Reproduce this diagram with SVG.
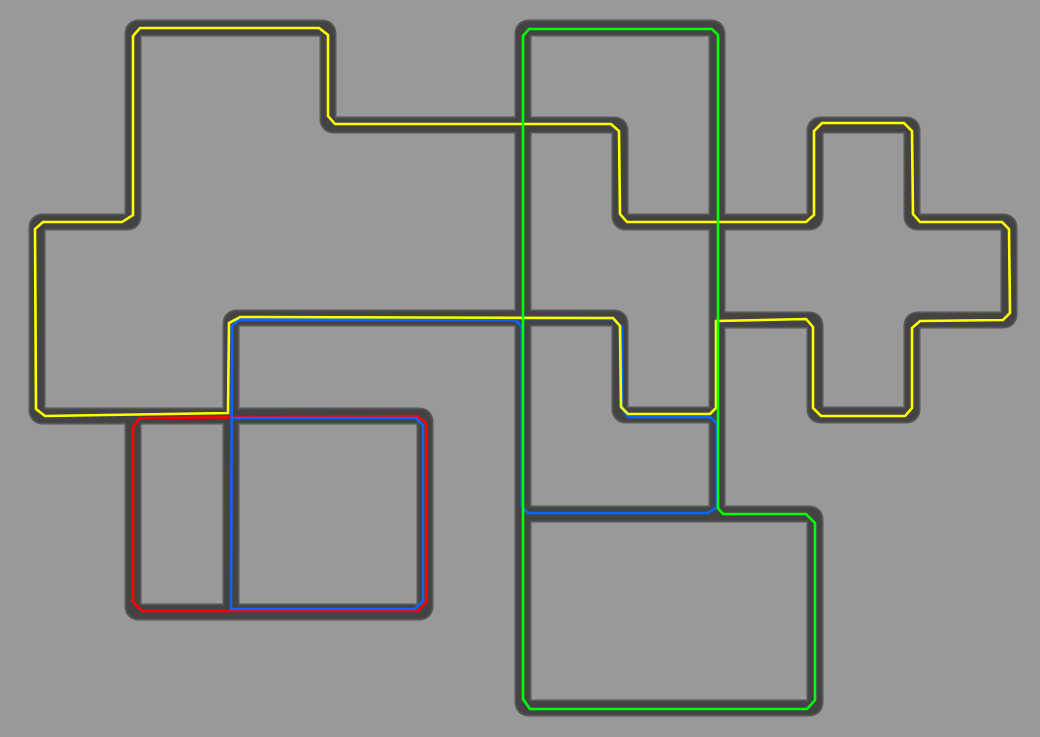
<svg xmlns="http://www.w3.org/2000/svg" width="1040" height="737" viewBox="0 0 1040 737">
<style>
.edge{fill:none;stroke:#575757;stroke-width:17;stroke-linejoin:round;stroke-linecap:butt}
.core{fill:none;stroke:#434343;stroke-width:13.5;stroke-linejoin:round;stroke-linecap:butt}
.ln{fill:none;stroke-width:2.6;stroke-linejoin:miter}
</style>
<defs>
<path id="rA" d="M 231,416 H 43 Q 37,416 37,410 V 228 Q 37,222 43,222 H 127 Q 133,222 133,216 V 34 Q 133,28 139,28 H 322 Q 328,28 328,34 V 119 Q 328,125 334,125 H 614 Q 620,125 620,131 V 216 Q 620,222 626,222 H 809 Q 815,222 815,216 V 131 Q 815,125 821,125 H 906 Q 912,125 912,131 V 216 Q 912,222 918,222 H 1003 Q 1009,222 1009,228 V 314 Q 1009,320 1003,320 H 918 Q 912,320 912,326 V 409 Q 912,415 906,415 H 821 Q 815,415 815,409 V 326 Q 815,320 809,320 H 717"/>
<path id="rB" d="M 231,612 V 324 Q 231,318 237,318 H 614 Q 620,318 620,324 V 409 Q 620,415 626,415 H 717"/>
<path id="rC" d="M 231,416 H 419 Q 425,416 425,422 V 606 Q 425,612 419,612 H 139 Q 133,612 133,606 V 416"/>
<path id="rD" d="M 529,28 H 711 Q 717,28 717,34 V 514 H 809 Q 815,514 815,520 V 702 Q 815,708 809,708 H 529 Q 523,708 523,702 V 34 Q 523,28 529,28 Z"/>
<path id="rE" d="M 523,514 H 717"/>
</defs>
<rect width="1040" height="737" fill="#999999"/>
<g id="roads">
<use href="#rA" class="edge"/><use href="#rB" class="edge"/><use href="#rC" class="edge"/><use href="#rD" class="edge"/><use href="#rE" class="edge"/>
<use href="#rA" class="core"/><use href="#rB" class="core"/><use href="#rC" class="core"/><use href="#rD" class="core"/><use href="#rE" class="core"/>
</g>
<g id="connectors">
<g id="red-line"><path class="ln" stroke="#ff0000" d="M 140,418 L 417,416 L 426,423 L 426,602 L 418,611 L 142,611 L 133,602 L 133,427 Z"/></g>
<g id="blue-line"><path class="ln" stroke="#0a66ff" d="M 239,319 L 613,319 L 622,327 L 622,408 L 628,417 L 710,417 L 717,423 L 717,507 L 708,513 L 528,513 L 522,507 L 522,327 L 515,320 L 239,320 L 232,326 L 231,609 L 415,609 L 423,601 L 423,425 L 416,418 L 231,418"/></g>
<g id="yellow-line"><path class="ln" stroke="#ffff00" d="M 133,36 L 140,28 L 319,28 L 328,35 L 328,116 L 335,124 L 611,124 L 619,131 L 620,214 L 627,222 L 806,222 L 814,215 L 814,131 L 822,123 L 904,123 L 912,131 L 913,214 L 920,222 L 1002,222 L 1009,229 L 1010,313 L 1003,320 L 920,321 L 912,328 L 912,408 L 905,416 L 821,416 L 813,408 L 813,327 L 806,319 L 716,321 L 716,408 L 710,414 L 628,414 L 621,407 L 620,326 L 613,318 L 240,317 L 229,323 L 228,413 L 45,416 L 36,409 L 35,229 L 43,222 L 122,222 L 133,215 Z"/></g>
<g id="green-line"><path class="ln" stroke="#00ff00" d="M 529,29 L 712,29 L 718,35 L 718,508 L 723,514 L 806,514 L 815,523 L 815,700 L 807,709 L 530,709 L 523,699 L 523,36 Z"/></g>
</g>
</svg>
